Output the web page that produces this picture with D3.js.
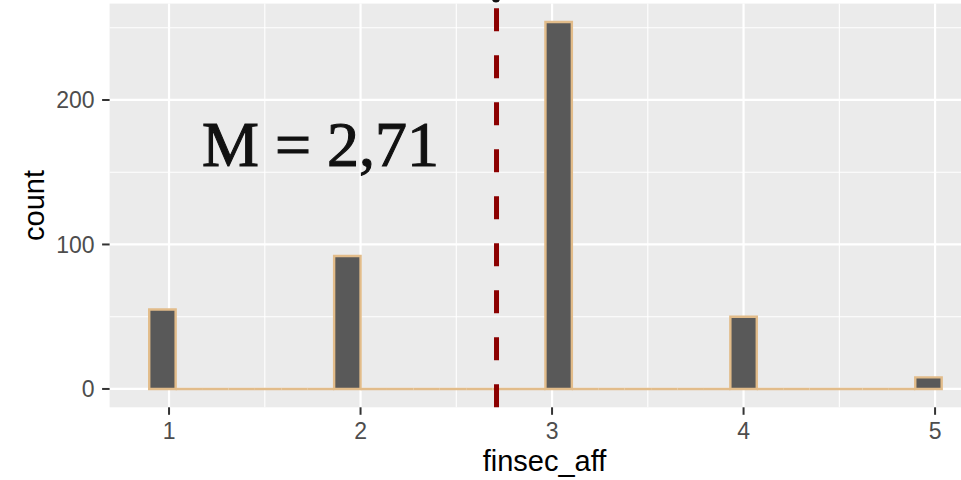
<!DOCTYPE html>
<html><head><meta charset="utf-8">
<script src="https://cdn.jsdelivr.net/npm/d3@7"></script>
<style>body{margin:0;background:#fff}svg{display:block}</style>
</head><body>
<script>
// ---- data ----
const values = [1, 2, 3, 4, 5];
const counts = [55, 92, 254, 50, 8];
const xTicks = [1, 2, 3, 4, 5];
const xMinorTicks = [1.5, 2.5, 3.5, 4.5];
const yTicks = [0, 100, 200];
const yMinorTicks = [50, 150, 250];
const nBins = 30;
const meanValue = 2.71;
const meanLabel = "M = 2,71";
const xTitle = "finsec_aff";
const yTitle = "count";

// ---- layout ----
const W = 961, H = 480;
const panel = {left: 109.6, right: 981.3, top: 3.6, bottom: 407.3};

const svg = d3.select("body").append("svg").attr("width", W).attr("height", H);

// ggplot-style bins (bins = 30)
const lo = d3.min(values), hi = d3.max(values);
const bw = (hi - lo) / (nBins - 1);
const boundary = bw / 2;
const origin = boundary + Math.floor((lo - boundary) / bw) * bw;
const nb = Math.ceil((hi - origin) / bw - 1e-7);
const edges = d3.range(nb + 1).map(i => origin + i * bw);
const binCounts = new Array(nb).fill(0);
values.forEach((v, j) => {
  const idx = Math.ceil((v - origin) / bw - 1e-7) - 1;
  binCounts[Math.max(0, Math.min(nb - 1, idx))] += counts[j];
});
const bins = binCounts.map((c, i) => ({x0: edges[i], x1: edges[i + 1], c}));

const xLo = edges[0], xHi = edges[nb];
const xPad = (xHi - xLo) * 0.05;
const x = d3.scaleLinear().domain([xLo - xPad, xHi + xPad]).range([panel.left, panel.right]);
const yMax = d3.max(binCounts);
const y = d3.scaleLinear().domain([-yMax * 0.05, yMax * 1.05]).range([panel.bottom, panel.top]);

// panel background
svg.append("rect").attr("x", panel.left).attr("y", panel.top)
  .attr("width", panel.right - panel.left).attr("height", panel.bottom - panel.top)
  .attr("fill", "#EBEBEB");

const g = svg.append("g");
// minor grid
g.selectAll(".ymin").data(yMinorTicks.filter(t => t <= y.domain()[1])).join("line")
  .attr("x1", panel.left).attr("x2", panel.right).attr("y1", d => y(d)).attr("y2", d => y(d))
  .attr("stroke", "#fff").attr("stroke-width", 1.1);
g.selectAll(".xmin").data(xMinorTicks).join("line")
  .attr("y1", panel.top).attr("y2", panel.bottom).attr("x1", d => x(d)).attr("x2", d => x(d))
  .attr("stroke", "#fff").attr("stroke-width", 1.1);
// major grid
g.selectAll(".ymaj").data(yTicks).join("line")
  .attr("x1", panel.left).attr("x2", panel.right).attr("y1", d => y(d)).attr("y2", d => y(d))
  .attr("stroke", "#fff").attr("stroke-width", 2.2);
g.selectAll(".xmaj").data(xTicks).join("line")
  .attr("y1", panel.top).attr("y2", panel.bottom).attr("x1", d => x(d)).attr("x2", d => x(d))
  .attr("stroke", "#fff").attr("stroke-width", 2.2);

// bars (paths so zero-count bins still show their outline)
svg.append("g").selectAll("path").data(bins).join("path")
  .attr("d", d => {
    const x0 = x(d.x0), x1 = x(d.x1), yt = y(d.c), yb = y(0);
    return `M${x0},${yb}L${x0},${yt}L${x1},${yt}L${x1},${yb}Z`;
  })
  .attr("fill", "#595959").attr("stroke", "#E2BC8A").attr("stroke-width", 2.4)
  .attr("stroke-linejoin", "miter");

// mean dashed line (drawn bottom-to-top)
svg.append("path")
  .attr("d", `M${x(meanValue)},${panel.bottom}L${x(meanValue)},${panel.top}`)
  .attr("stroke", "#8B0000").attr("stroke-width", 5).attr("stroke-dasharray", "23,24")
  .attr("fill", "none");

// annotation
svg.append("text").attr("x", 202).attr("y", 166)
  .attr("font-family", "'Liberation Serif', 'DejaVu Serif', serif").attr("font-size", 64)
  .attr("fill", "#111").attr("stroke", "#111").attr("stroke-width", 1.1)
  .text(meanLabel);

// tiny cut-off mark at top
svg.append("circle").attr("cx", x(meanValue) - 0.5).attr("cy", -1.5).attr("r", 4).attr("fill", "#111");

// axes ticks
svg.append("g").selectAll("line").data(yTicks).join("line")
  .attr("x1", panel.left - 7.5).attr("x2", panel.left).attr("y1", d => y(d)).attr("y2", d => y(d))
  .attr("stroke", "#333").attr("stroke-width", 2);
svg.append("g").selectAll("line").data(xTicks).join("line")
  .attr("y1", panel.bottom).attr("y2", panel.bottom + 7.5).attr("x1", d => x(d)).attr("x2", d => x(d))
  .attr("stroke", "#333").attr("stroke-width", 2);

const font = "'Liberation Sans', Arial, Helvetica, sans-serif";
svg.append("g").selectAll("text").data(yTicks).join("text")
  .attr("x", 94.5).attr("y", d => y(d) + 8.3).attr("text-anchor", "end")
  .attr("font-family", font).attr("font-size", 23).attr("fill", "#4D4D4D").text(d => d);
svg.append("g").selectAll("text").data(xTicks).join("text")
  .attr("x", d => x(d)).attr("y", 438.5).attr("text-anchor", "middle")
  .attr("font-family", font).attr("font-size", 23).attr("fill", "#4D4D4D").text(d => d);

// axis titles
svg.append("text").attr("x", (panel.left + panel.right) / 2 - 1).attr("y", 471)
  .attr("text-anchor", "middle").attr("font-family", font).attr("font-size", 29)
  .attr("fill", "#000").text(xTitle);
svg.append("text").attr("transform", `translate(43.5,${(panel.top + panel.bottom) / 2}) rotate(-90)`)
  .attr("text-anchor", "middle").attr("font-family", font).attr("font-size", 29)
  .attr("fill", "#000").text(yTitle);
</script>
</body></html>
